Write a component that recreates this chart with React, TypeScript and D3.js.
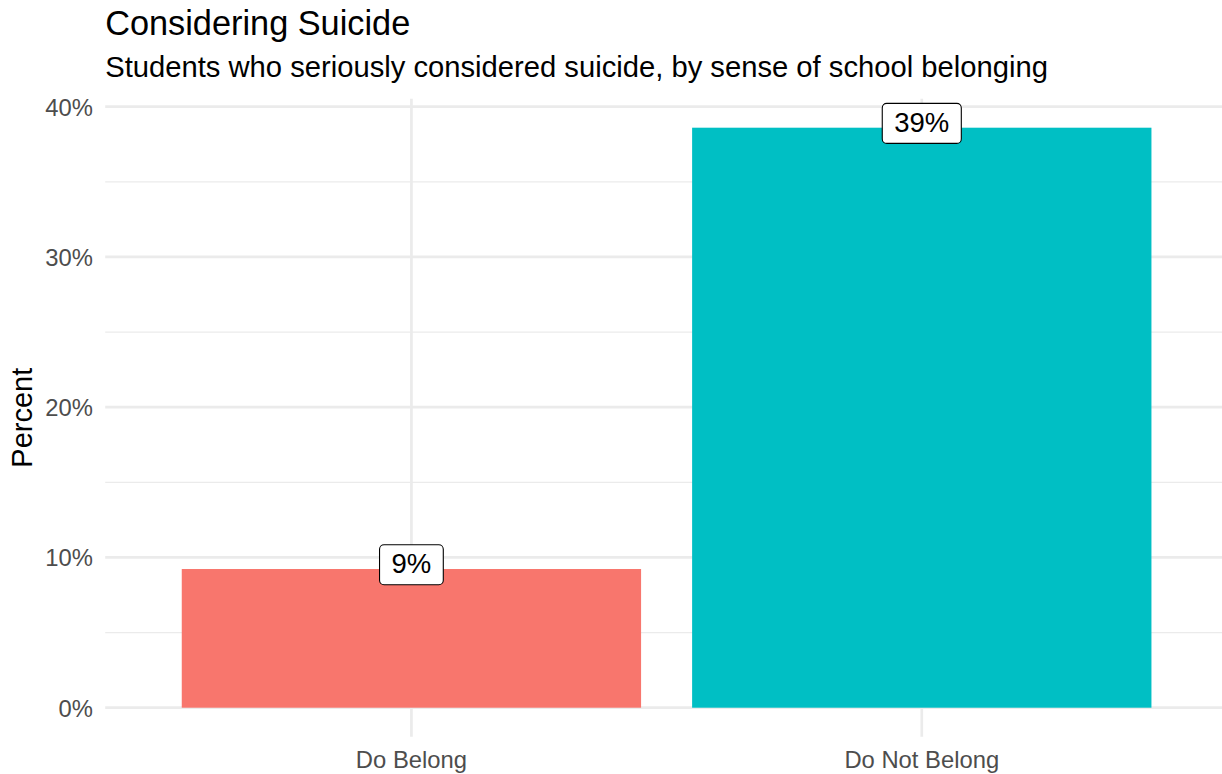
import React, { useEffect, useRef } from "react";
import * as d3 from "d3";

const categories = ["Do Belong", "Do Not Belong"];
const percents = [9.23, 38.6];
const fillColors = ["#F8766D", "#00BFC4"];
const yMajorTicks = [0, 10, 20, 30, 40];
const yMinorTicks = [5, 15, 25, 35];
const titleText = "Considering Suicide";
const subtitleText = "Students who seriously considered suicide, by sense of school belonging";
const yAxisTitle = "Percent";

const W = 1222;
const H = 774;
const FONT = "'Liberation Sans', Arial, Helvetica, sans-serif";

export default function App() {
  const ref = useRef<SVGSVGElement | null>(null);

  useEffect(() => {
    document.body.style.margin = "0";
    const svg = d3.select(ref.current);
    svg.selectAll("*").remove();

    const panel = { left: 105.2, right: 1228, top: 98.7, bottom: 736.7 };

    const yMax = d3.max(percents) as number;
    const pad = yMax * 0.05;
    const y = d3.scaleLinear().domain([-pad, yMax + pad]).range([panel.bottom, panel.top]);
    const x = d3
      .scaleBand<string>()
      .domain(categories)
      .range([panel.left, panel.right])
      .paddingInner(0.1)
      .paddingOuter(0.15);

    const g = svg.append("g");

    // minor gridlines
    g.selectAll("line.minor")
      .data(yMinorTicks)
      .join("line")
      .attr("x1", panel.left)
      .attr("x2", panel.right)
      .attr("y1", (d) => y(d))
      .attr("y2", (d) => y(d))
      .attr("stroke", "#EBEBEB")
      .attr("stroke-width", 1.3);

    // major gridlines
    g.selectAll("line.major")
      .data(yMajorTicks)
      .join("line")
      .attr("x1", panel.left)
      .attr("x2", panel.right)
      .attr("y1", (d) => y(d))
      .attr("y2", (d) => y(d))
      .attr("stroke", "#EBEBEB")
      .attr("stroke-width", 2.7);

    g.selectAll("line.vmajor")
      .data(categories)
      .join("line")
      .attr("x1", (d) => (x(d) as number) + x.bandwidth() / 2)
      .attr("x2", (d) => (x(d) as number) + x.bandwidth() / 2)
      .attr("y1", panel.top)
      .attr("y2", panel.bottom)
      .attr("stroke", "#EBEBEB")
      .attr("stroke-width", 2.7);

    // bars
    g.selectAll("rect.bar")
      .data(categories)
      .join("rect")
      .attr("x", (d) => x(d) as number)
      .attr("width", x.bandwidth())
      .attr("y", (_d, i) => y(percents[i]))
      .attr("height", (_d, i) => y(0) - y(percents[i]))
      .attr("fill", (_d, i) => fillColors[i]);

    // labels
    const labelFont = 27.5;
    categories.forEach((c, i) => {
      const cx = (x(c) as number) + x.bandwidth() / 2;
      const cy = y(percents[i]) - 4.3;
      const lg = g.append("g");
      const rect = lg.append("rect");
      const t = lg
        .append("text")
        .attr("x", cx)
        .attr("y", cy + labelFont * 0.31)
        .attr("text-anchor", "middle")
        .attr("font-family", FONT)
        .attr("font-size", labelFont)
        .attr("fill", "#000")
        .text(`${Math.round(percents[i])}%`);
      const tw = (t.node() as SVGTextElement).getComputedTextLength();
      const padX = 12;
      const h = 40;
      rect
        .attr("x", cx - tw / 2 - padX)
        .attr("y", cy - h / 2)
        .attr("width", tw + padX * 2)
        .attr("height", h)
        .attr("rx", 4.5)
        .attr("ry", 4.5)
        .attr("fill", "#fff")
        .attr("stroke", "#000")
        .attr("stroke-width", 1.1);
    });

    // y tick labels
    g.selectAll("text.ytick")
      .data(yMajorTicks)
      .join("text")
      .attr("x", 93)
      .attr("y", (d) => y(d) + 9)
      .attr("text-anchor", "end")
      .attr("font-family", FONT)
      .attr("font-size", 23.8)
      .attr("fill", "#4D4D4D")
      .text((d) => `${d}%`);

    // x tick labels
    g.selectAll("text.xtick")
      .data(categories)
      .join("text")
      .attr("x", (d) => (x(d) as number) + x.bandwidth() / 2)
      .attr("y", 767.5)
      .attr("text-anchor", "middle")
      .attr("font-family", FONT)
      .attr("font-size", 23.8)
      .attr("fill", "#4D4D4D")
      .text((d) => d);

    // y axis title
    g.append("text")
      .attr("transform", `translate(32, ${(panel.top + panel.bottom) / 2}) rotate(-90)`)
      .attr("text-anchor", "middle")
      .attr("font-family", FONT)
      .attr("font-size", 29)
      .attr("fill", "#000")
      .text(yAxisTitle);

    // title & subtitle
    g.append("text")
      .attr("x", panel.left)
      .attr("y", 35)
      .attr("font-family", FONT)
      .attr("font-size", 34.3)
      .attr("fill", "#000")
      .text(titleText);

    g.append("text")
      .attr("x", panel.left)
      .attr("y", 77)
      .attr("font-family", FONT)
      .attr("font-size", 29.2)
      .attr("fill", "#000")
      .text(subtitleText);
  }, []);

  return (
    <svg
      ref={ref}
      width={W}
      height={H}
      viewBox={`0 0 ${W} ${H}`}
      style={{ display: "block", background: "#fff", position: "absolute", left: 0, top: 0 }}
    />
  );
}
